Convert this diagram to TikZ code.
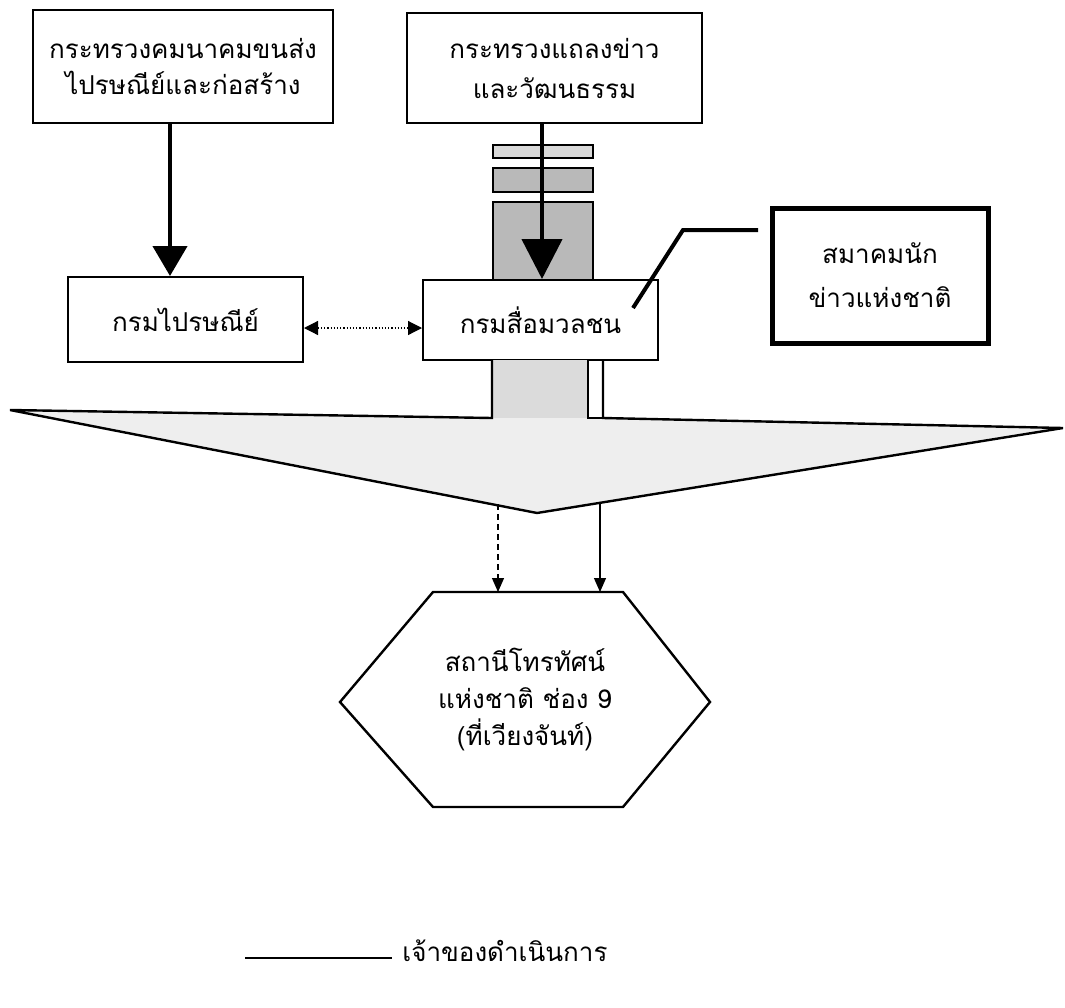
\documentclass[tikz,border=0pt]{standalone}
\usepackage{fontspec}
\setmainfont[Script=Thai]{Loma}
\usetikzlibrary{arrows.meta}
\begin{document}
\begin{tikzpicture}[x=0.5pt,y=-0.5pt,
  box/.style={draw,line width=1pt,inner sep=0pt,align=center,font=\fontsize{13}{18}\selectfont},
  thickbox/.style={box,line width=2.5pt},
  bigarrow/.style={line width=2.2pt,-{Triangle[width=17pt,length=15pt]}},
  biggerarrow/.style={line width=2.2pt,-{Triangle[width=20pt,length=20pt]}},
  smallarrow/.style={line width=0.6pt,-{Triangle[width=6pt,length=7pt]}},
  dblarrow/.style={line width=0.6pt,densely dotted,{Triangle[width=7pt,length=7pt]}-{Triangle[width=7pt,length=7pt]}},
  shade/.style={draw,line width=1pt,fill=gray!55},
  outline/.style={line width=1.2pt,line join=miter}]
\useasboundingbox (0,0) rectangle (1065,1007);

% nodes
\node[box,minimum width=150pt,minimum height=56.5pt] (A) at (183,66.5)
  {กระทรวงคมนาคมขนส่ง\\ไปรษณีย์และก่อสร้าง};
\node[box,minimum width=147.5pt,minimum height=55pt,font=\fontsize{13}{20}\selectfont] (B) at (554.5,68)
  {กระทรวงแถลงข่าว\\และวัฒนธรรม};
\node[box,minimum width=117.5pt,minimum height=42.5pt] (P) at (185.5,319.5)
  {กรมไปรษณีย์};
\node[box,minimum width=117.5pt,minimum height=40pt,fill=white] (M) at (540.5,320)
  {กรมสื่อมวลชน};
\node[thickbox,minimum width=108pt,minimum height=67.5pt,font=\fontsize{13}{22}\selectfont] (S) at (880,275.5)
  {สมาคมนัก\\ข่าวแห่งชาติ};

% stacked shaded boxes under B
\draw[shade,fill=gray!30] (493,145) rectangle (593,158);
\draw[shade] (493,168) rectangle (593,192);
\draw[shade] (493,202) rectangle (593,280);

% stem and funnel
\fill[gray!13] (10,410) -- (492,418) -- (492,360) -- (588,360) -- (588,418)
  -- (1063,428) -- (537,513) -- cycle;
\fill[gray!28] (492,360) rectangle (588,418);
\draw[outline] (492,360) -- (492,418) -- (10,410) -- (537,513) -- (1063,428) -- (603,418) -- (603,360);
\draw[outline] (588,360) -- (588,418) -- (603,418);

% hexagon
\draw[outline,fill=white] (433,592) -- (623,592) -- (710,702) -- (623,807) -- (433,807) -- (340,702) -- cycle;
\node[align=center,font=\fontsize{13}{18.5}\selectfont] (H) at (525,700)
  {สถานีโทรทัศน์\\แห่งชาติ ช่อง 9\\(ที่เวียงจันท์)};

% connectors
\draw[bigarrow] (A.south -| 170,0) -- (P.north -| 170,0);
\draw[biggerarrow] (B.south -| 542,0) -- (M.north -| 542,0);
\draw[dblarrow] (P.east |- 0,328) -- (M.west |- 0,328);

\coordinate (s1) at (758,230);
\coordinate (m1) at (633,308);
\draw[line width=2pt] (s1) -- (683,230) -- (m1);

\coordinate (t1) at (498,504);
\coordinate (t2) at (600,503);
\coordinate (h1) at (498,592);
\coordinate (h2) at (600,592);
\draw[smallarrow,densely dashed] (t1) -- (h1);
\draw[smallarrow] (t2) -- (h2);

% legend
\coordinate (l1) at (245,958);
\coordinate (l2) at (392,958);
\draw[line width=1pt] (l1) -- (l2);
\node[anchor=south west,inner sep=0pt,font=\fontsize{13}{15}\selectfont] (L) at (402,962)
  {เจ้าของดำเนินการ};
\end{tikzpicture}
\end{document}
